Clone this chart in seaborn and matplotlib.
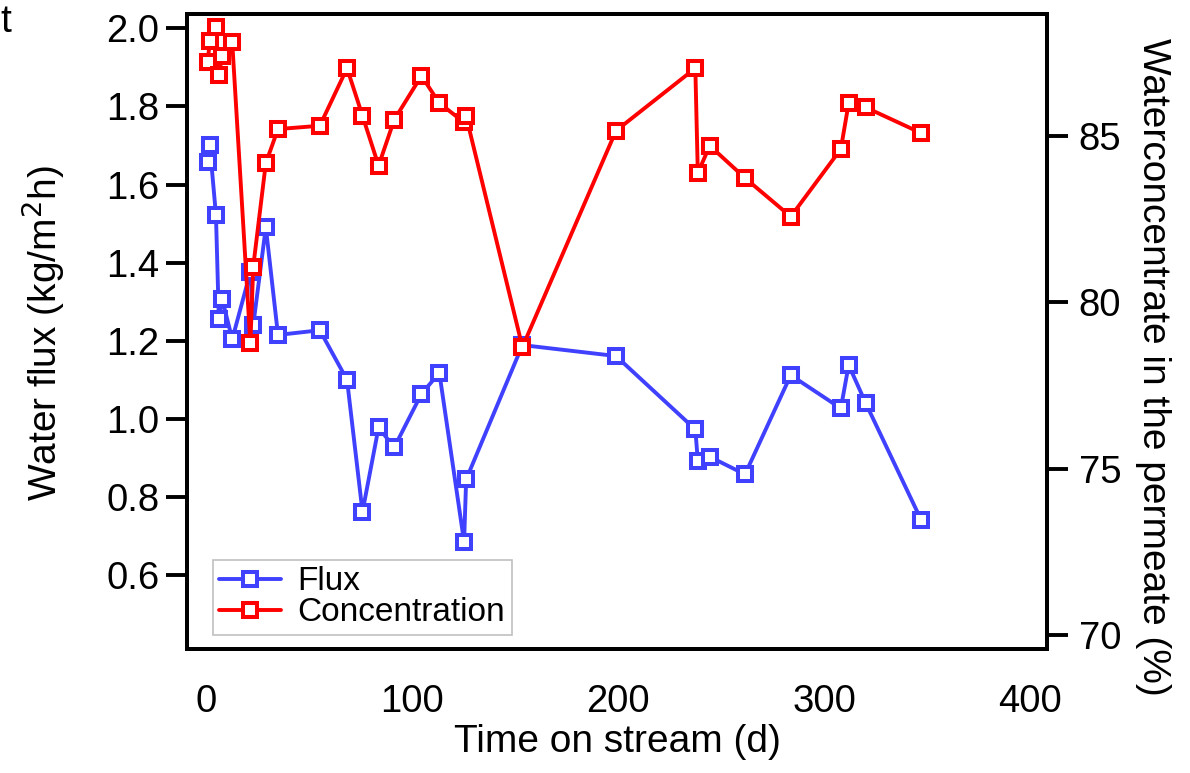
import matplotlib
matplotlib.use("Agg")
import matplotlib.pyplot as plt
import seaborn as sns
import pandas as pd

# ---- data ----
flux_days = [0.9, 1.9, 4.9, 6.3, 7.9, 12.8, 21.6, 23.0, 29.1, 35.0, 55.3, 68.5, 76.0, 83.8,
             91.4, 104.6, 113.3, 125.3, 126.3, 153.6, 199.0, 237.5, 238.7, 244.5, 261.6,
             283.8, 308.1, 311.9, 320.2, 347.1]
flux = [1.657, 1.701, 1.522, 1.256, 1.307, 1.204, 1.376, 1.240, 1.491, 1.215, 1.227, 1.100,
        0.762, 0.978, 0.927, 1.064, 1.118, 0.685, 0.845, 1.189, 1.161, 0.973, 0.893, 0.903,
        0.858, 1.112, 1.027, 1.138, 1.040, 0.741]
conc_days = flux_days
conc = [87.21, 87.86, 88.28, 86.83, 87.41, 87.81, 78.77, 81.07, 84.18, 85.20, 85.30, 87.03,
        85.60, 84.10, 85.48, 86.80, 85.98, 85.40, 85.58, 78.65, 85.15, 87.03, 83.88, 84.70,
        83.73, 82.57, 84.60, 85.98, 85.85, 85.08]

x_ticks = [0, 100, 200, 300, 400]
left_ticks = [0.6, 0.8, 1.0, 1.2, 1.4, 1.6, 1.8, 2.0]
right_ticks = [70, 75, 80, 85]

df_flux = pd.DataFrame({"day": flux_days, "val": flux})
df_conc = pd.DataFrame({"day": conc_days, "val": conc})

sns.set_style("white")
plt.rcParams["font.family"] = ["Liberation Sans", "DejaVu Sans"]
plt.rcParams["text.color"] = "black"
plt.rcParams["axes.labelcolor"] = "black"

BLUE = "#4040ff"
RED = "#ff0000"
FS = 28
TFS = 27.5
LW_SP = 2.8

fig = plt.figure(figsize=(11.9, 7.73), dpi=100)
ax = fig.add_axes([0.1574, 0.160, 0.7222, 0.822])
ax2 = ax.twinx()

style = dict(marker="s", markersize=10, markerfacecolor="white", markeredgewidth=2.9,
             linewidth=2.8, estimator=None)
sns.lineplot(data=df_flux, x="day", y="val", ax=ax, color=BLUE, markeredgecolor=BLUE,
             label="Flux", legend=False, **style)
sns.lineplot(data=df_conc, x="day", y="val", ax=ax2, color=RED, markeredgecolor=RED,
             label="Concentration", legend=False, **style)

ax.set_xlim(-9.0, 408)
ax.set_ylim(0.41, 2.037)
ax2.set_ylim(69.57, 88.66)

ax.set_xticks(x_ticks)
ax.set_yticks(left_ticks)
ax.set_yticklabels([f"{t:.1f}" for t in left_ticks])
ax2.set_yticks(right_ticks)

for a in (ax, ax2):
    for s in a.spines.values():
        s.set_linewidth(LW_SP)
        s.set_color("black")

ax.tick_params(axis="both", direction="out", length=15, width=LW_SP, labelsize=TFS,
               colors="black")
ax.tick_params(axis="x", pad=10)
ax.tick_params(axis="y", pad=5)
ax2.tick_params(axis="y", direction="out", length=15, width=LW_SP, labelsize=TFS, pad=8,
                colors="black")

ax.set_xlabel("Time on stream (d)", fontsize=FS)
ax.xaxis.set_label_coords(0.5, -0.118)
ax.set_ylabel("Water flux (kg/m$^2$h)", fontsize=FS)
ax.yaxis.set_label_coords(-0.140, 0.497)
ax2.set_ylabel("Waterconcentrate in the permeate (%)", fontsize=FS, rotation=270,
               va="center")
ax2.yaxis.set_label_coords(1.124, 0.444)

h1, l1 = ax.get_legend_handles_labels()
h2, l2 = ax2.get_legend_handles_labels()
leg = ax2.legend(h1 + h2, l1 + l2, loc="lower left", bbox_to_anchor=(0.0296, 0.0225),
                 borderaxespad=0, fontsize=24, frameon=True, fancybox=False,
                 edgecolor="#c0c0c0", framealpha=1, handlelength=1.85, handletextpad=0.5,
                 labelspacing=0.0, borderpad=0.2)
leg.get_frame().set_linewidth(1.2)
for t in leg.get_texts():
    t.set_color("black")

fig.text(0.0, 0.972, "t", fontsize=FS, va="center", ha="left")

fig.savefig("out.png", dpi=100)
